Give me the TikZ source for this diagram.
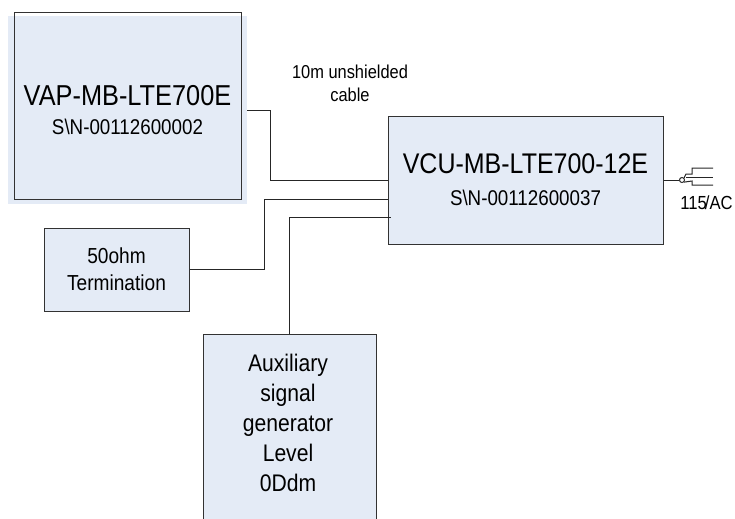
\documentclass[tikz,border=0pt]{standalone}
\usepackage{fontspec}
\setmainfont[FakeStretch=0.88]{Liberation Sans}
\usetikzlibrary{arrows.meta,positioning,calc}
\definecolor{BoxBlue}{RGB}{228,235,246}
\definecolor{BoxEdge}{RGB}{50,50,50}

\begin{document}
\begin{tikzpicture}[x=0.75pt,y=-0.75pt,every node/.style={align=center,inner sep=0pt},
    devbox/.style={draw=BoxEdge,fill=BoxBlue,line width=0.75pt},
    cable/.style={draw=black!85,line width=0.75pt}]
      \useasboundingbox (0,0) rectangle (735,518);
      \clip (0,0) rectangle (735,518);

      \node[fill=BoxBlue,minimum width=179.25pt,minimum height=141pt,font=\fontsize{16}{21.75}\selectfont] (vap) at (127.5,110)
        {{\fontsize{21.6}{21.75}\selectfont VAP-MB-LTE700E}\\S\textbackslash N-00112600002};
      \node[draw=BoxEdge,line width=0.75pt,minimum width=170.5pt,minimum height=140.5pt] (vapframe) at (128.25,106.25) {};

      \node[devbox,minimum width=206.25pt,minimum height=96pt,font=\fontsize{16}{24}\selectfont] (vcu) at (525.5,180)
        {{\fontsize{21.3}{24}\selectfont VCU-MB-LTE700-12E}\\S\textbackslash N-00112600037};
      \node[devbox,minimum width=108.75pt,minimum height=62.25pt,font=\fontsize{16.3}{20.5}\selectfont] (term) at (116.5,269.5) {50ohm\\Termination};
      \node[devbox,minimum width=129.75pt,minimum height=150pt,anchor=north] (aux) at (289.5,334) {};
      \node[font=\fontsize{18}{22.5}\selectfont] (auxtext) at (288,423) {Auxiliary\\signal\\generator\\Level\\0Ddm};

      \node[font=\fontsize{14}{17}\selectfont] (cablelabel) at (350,83) {10m unshielded\\cable};
      \node[font=\fontsize{14.2}{15}\selectfont] (acvolt) at (706.5,203) {115\kern-1.5pt/AC};

      \coordinate (vcuin2) at (388,199);
      \coordinate (vcuin3) at (390.5,217.5);
      \draw[cable] (vap.east) -- (270,110) |- (vcu.west);
      \draw[cable] (term.east) -- (264,269.5) |- (vcuin2);
      \draw[cable] (aux.north) |- (vcuin3);

      % plug on the mains side
      \node[draw=black!85,line width=0.75pt,circle,minimum size=3.75pt] (plugpin) at (682,180) {};
      \coordinate (prongtop) at (713,168);
      \coordinate (prongmid) at (713,177);
      \coordinate (prongbot) at (713,185);
      \draw[cable] (vcu.east) -- (plugpin.west);
      \draw[cable] (plugpin.north east) -- (686,174) -- (692,174) -- (692,168) -- (prongtop);
      \draw[cable] (686,177) -- (prongmid);
      \draw[cable] (plugpin.south east) -- (692,181) |- (prongbot);
    \end{tikzpicture}
\end{document}
